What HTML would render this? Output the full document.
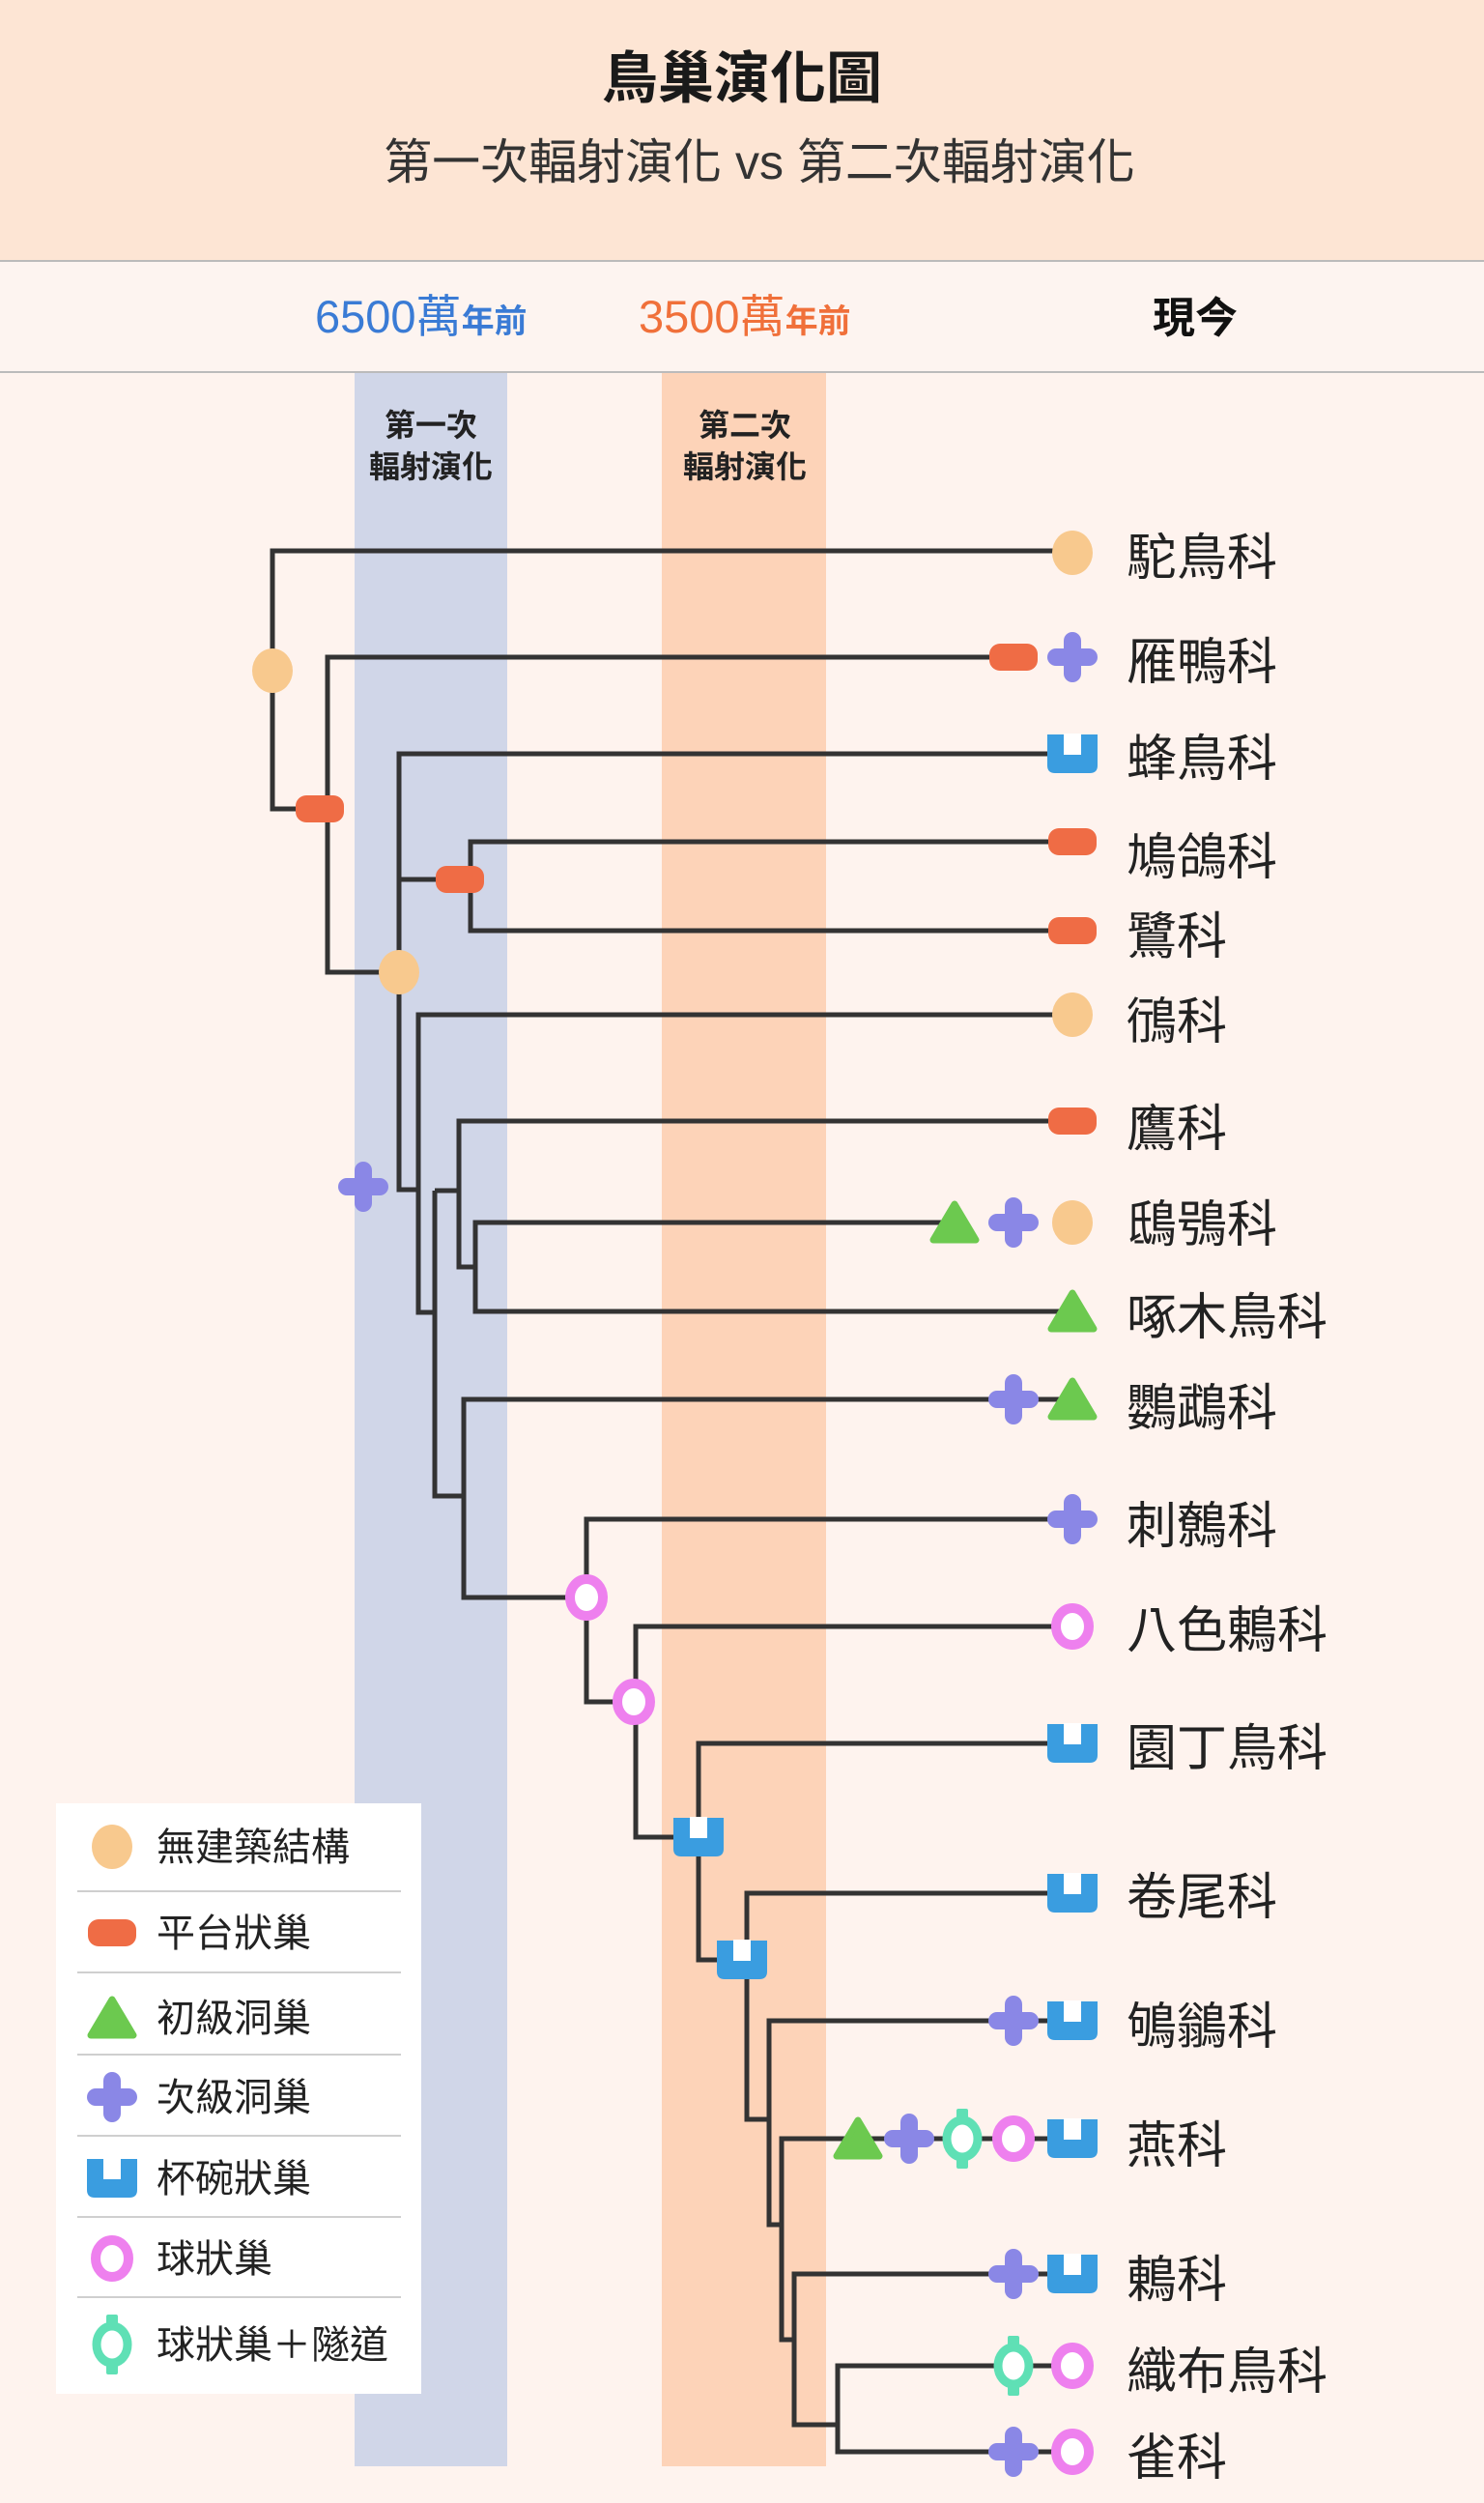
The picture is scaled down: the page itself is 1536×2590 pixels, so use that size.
<!DOCTYPE html>
<html><head><meta charset="utf-8"><style>
html,body{margin:0;padding:0;background:#fef3ee;}
svg{display:block;}
text{font-family:"Liberation Sans","Noto Sans CJK TC","Noto Sans CJK SC",sans-serif;}
</style></head><body>
<svg width="1536" height="2590" viewBox="0 0 1536 2590" xmlns="http://www.w3.org/2000/svg">
<defs>
<g id="circ"><ellipse cx="0" cy="0" rx="21" ry="23" fill="#f8c98e"/></g>
<g id="plat"><rect x="-25" y="-14" width="50" height="28" rx="11" fill="#ef6c45"/></g>
<g id="plus" fill="#8a87e6"><rect x="-26" y="-9" width="52" height="18" rx="9"/><rect x="-9" y="-26" width="18" height="52" rx="9"/></g>
<g id="cup"><path d="M-26,-20 H26 V12 Q26,20 18,20 H-18 Q-26,20 -26,12 Z" fill="#3a9de0"/><rect x="-9" y="-21" width="18" height="22" fill="#ffffff"/></g>
<g id="tri"><path d="M0,-19 L22,18 L-22,18 Z" fill="#6cc94f" stroke="#6cc94f" stroke-width="7" stroke-linejoin="round"/></g>
<g id="ring"><ellipse cx="0" cy="0" rx="17" ry="19" fill="#fff" stroke="#ee80ee" stroke-width="10"/></g>
<g id="tun"><rect x="-6" y="-31" width="12" height="62" rx="2" fill="#5fe0b5"/><ellipse cx="0" cy="0" rx="16" ry="19" fill="#fff" stroke="#5fe0b5" stroke-width="9"/></g>
</defs>

<rect x="0" y="0" width="1536" height="270" fill="#fde5d4"/>
<line x1="0" y1="270" x2="1536" y2="270" stroke="#bbb" stroke-width="2"/>
<text x="768" y="101" text-anchor="middle" font-size="58" font-weight="bold" fill="#1a1a1a">鳥巢演化圖</text>
<text x="786" y="185" text-anchor="middle" font-size="50" fill="#333">第一次輻射演化 vs 第二次輻射演化</text>

<rect x="0" y="271" width="1536" height="114" fill="#fdf4f0"/>
<line x1="0" y1="385" x2="1536" y2="385" stroke="#bbb" stroke-width="2"/>
<text x="326" y="344" font-size="47" fill="#3a7bd5">6500萬<tspan font-size="34" font-weight="bold">年前</tspan></text>
<text x="661" y="344" font-size="47" fill="#f0703a">3500萬<tspan font-size="34" font-weight="bold">年前</tspan></text>
<text x="1237" y="344" text-anchor="middle" font-size="44" font-weight="bold" fill="#111">現今</text>

<rect x="367" y="386" width="158" height="2166" fill="#d0d6e8"/>
<rect x="685" y="386" width="170" height="2166" fill="#fdd3b8"/>
<g font-size="32" font-weight="bold" fill="#222" text-anchor="middle">
<text x="446" y="451">第一次</text><text x="446" y="494">輻射演化</text>
<text x="771" y="451">第二次</text><text x="771" y="494">輻射演化</text>
</g>

<g fill="none" stroke="#333" stroke-width="5">
<path d="M1110,570 H282 V837 H339"/>
<path d="M1049,680 H339 V1006 H413"/>
<path d="M1110,780 H413 V1231 H433"/>
<path d="M413,910 H487 M1110,871 H487 V963 H1110"/>
<path d="M1110,1050 H433 V1358 H450"/>
<path d="M450,1232 H475 M1110,1160 H475 V1311 H492 M988,1265 H492 V1357 H1110"/>
<path d="M450,1232 V1548 H480"/>
<path d="M1110,1448 H480 V1653 H607"/>
<path d="M1110,1572 H607 V1761 H658"/>
<path d="M1110,1683 H658 V1901 H723"/>
<path d="M1110,1804 H723 V2028 H773"/>
<path d="M1110,1959 H773 V2193 H796"/>
<path d="M1110,2091 H796 V2302 H809"/>
<path d="M1110,2213 H809 V2421 H822"/>
<path d="M1110,2353 H822 V2509 H867"/>
<path d="M1110,2448 H867 V2537 H1110"/>
</g>

<use href="#circ" x="282" y="694"/>
<use href="#plat" x="331" y="837"/>
<use href="#circ" x="413" y="1006"/>
<use href="#plat" x="476" y="910"/>
<use href="#plus" x="376" y="1228"/>
<use href="#ring" x="607" y="1653"/>
<use href="#ring" x="656" y="1761"/>
<use href="#cup" x="723" y="1901"/>
<use href="#cup" x="768" y="2028"/>

<use href="#circ" x="1110" y="572"/>
<use href="#plat" x="1049" y="680"/><use href="#plus" x="1110" y="680"/>
<use href="#cup" x="1110" y="780"/>
<use href="#plat" x="1110" y="871"/>
<use href="#plat" x="1110" y="963"/>
<use href="#circ" x="1110" y="1050"/>
<use href="#plat" x="1110" y="1160"/>
<use href="#tri" x="988" y="1265"/><use href="#plus" x="1049" y="1265"/><use href="#circ" x="1110" y="1265"/>
<use href="#tri" x="1110" y="1357"/>
<use href="#plus" x="1049" y="1448"/><use href="#tri" x="1110" y="1448"/>
<use href="#plus" x="1110" y="1572"/>
<use href="#ring" x="1110" y="1683"/>
<use href="#cup" x="1110" y="1804"/>
<use href="#cup" x="1110" y="1959"/>
<use href="#plus" x="1049" y="2091"/><use href="#cup" x="1110" y="2091"/>
<use href="#tri" x="888" y="2213"/><use href="#plus" x="941" y="2213"/><use href="#tun" x="996" y="2213"/><use href="#ring" x="1049" y="2213"/><use href="#cup" x="1110" y="2213"/>
<use href="#plus" x="1049" y="2353"/><use href="#cup" x="1110" y="2353"/>
<use href="#tun" x="1049" y="2448"/><use href="#ring" x="1110" y="2448"/>
<use href="#plus" x="1049" y="2537"/><use href="#ring" x="1110" y="2537"/>

<g font-size="52" fill="#222">
<text x="1166" y="595">駝鳥科</text>
<text x="1166" y="703">雁鴨科</text>
<text x="1166" y="803">蜂鳥科</text>
<text x="1166" y="905">鳩鴿科</text>
<text x="1166" y="987">鷺科</text>
<text x="1166" y="1075">鴴科</text>
<text x="1166" y="1186">鷹科</text>
<text x="1166" y="1285">鴟鴞科</text>
<text x="1166" y="1381">啄木鳥科</text>
<text x="1166" y="1475">鸚鵡科</text>
<text x="1166" y="1597">刺鷯科</text>
<text x="1166" y="1705">八色鶇科</text>
<text x="1166" y="1827">園丁鳥科</text>
<text x="1166" y="1981">卷尾科</text>
<text x="1166" y="2115">鴝鶲科</text>
<text x="1166" y="2238">燕科</text>
<text x="1166" y="2377">鶇科</text>
<text x="1166" y="2472">織布鳥科</text>
<text x="1166" y="2561">雀科</text>
</g>

<rect x="58" y="1866" width="378" height="611" fill="#ffffff"/>
<g stroke="#cfcfcf" stroke-width="2">
<line x1="80" y1="1957" x2="415" y2="1957"/>
<line x1="80" y1="2041" x2="415" y2="2041"/>
<line x1="80" y1="2126" x2="415" y2="2126"/>
<line x1="80" y1="2210" x2="415" y2="2210"/>
<line x1="80" y1="2294" x2="415" y2="2294"/>
<line x1="80" y1="2377" x2="415" y2="2377"/>
</g>
<use href="#circ" x="116" y="1911"/>
<use href="#plat" x="116" y="2000"/>
<use href="#tri" x="116" y="2088"/>
<use href="#plus" x="116" y="2170"/>
<use href="#cup" x="116" y="2254"/>
<use href="#ring" x="116" y="2337"/>
<use href="#tun" x="116" y="2426"/>
<g font-size="40" fill="#222">
<text x="162" y="1925">無建築結構</text>
<text x="162" y="2014">平台狀巢</text>
<text x="162" y="2102">初級洞巢</text>
<text x="162" y="2184">次級洞巢</text>
<text x="162" y="2268">杯碗狀巢</text>
<text x="162" y="2351">球狀巢</text>
<text x="162" y="2440">球狀巢＋隧道</text>
</g>
</svg>
</body></html>
